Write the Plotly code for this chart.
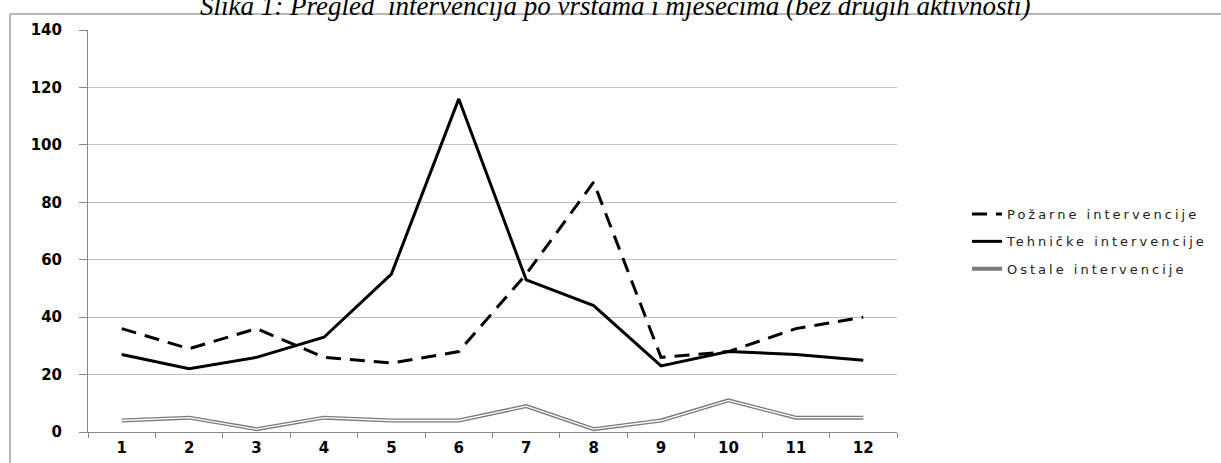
import plotly.graph_objects as go

months = ["1", "2", "3", "4", "5", "6", "7", "8", "9", "10", "11", "12"]
pozarne = [36, 29, 36, 26, 24, 28, 55, 87, 26, 28, 36, 40]
tehnicke = [27, 22, 26, 33, 55, 116, 53, 44, 23, 28, 27, 25]
ostale = [4, 5, 1, 5, 4, 4, 9, 1, 4, 11, 5, 5]
y_ticks = [0, 20, 40, 60, 80, 100, 120, 140]
title_text = "Slika 1: Pregled  intervencija po vrstama i mjesecima (bez drugih aktivnosti)"

fig = go.Figure()
fig.add_trace(go.Scatter(x=months, y=pozarne, mode="lines", name="Požarne intervencije",
                         legendgroup="p",
                         line=dict(color="black", width=3, dash="15px,9px")))
fig.add_trace(go.Scatter(x=months, y=tehnicke, mode="lines", name="Tehničke intervencije",
                         legendgroup="t",
                         line=dict(color="black", width=3)))
fig.add_trace(go.Scatter(x=months, y=ostale, mode="lines", name="Ostale intervencije",
                         legendgroup="o",
                         line=dict(color="#7a7a7a", width=4)))
fig.add_trace(go.Scatter(x=months, y=ostale, mode="lines", showlegend=False, legendgroup="o",
                         line=dict(color="white", width=1.3), hoverinfo="skip"))

PL, PR, PT, PB = 88, 897, 30, 432
pw, ph = PR - PL, PB - PT

def px_x(v):
    return (v - PL) / pw

def px_y(v):
    return (PB - v) / ph

border = dict(color="#a0a0a0", width=1.5)
fig.update_layout(
    width=1221, height=463,
    margin=dict(l=PL, r=1221 - PR, t=PT, b=463 - PB, autoexpand=False),
    paper_bgcolor="white", plot_bgcolor="white",
    showlegend=True,
    legend=dict(x=px_x(967), y=px_y(241.5), xanchor="left", yanchor="middle",
                font=dict(family="DejaVu Sans", size=13, color="#222"),
                bgcolor="rgba(0,0,0,0)", tracegroupgap=7.5, itemwidth=30,
                entrywidth=250, entrywidthmode="pixels"),
    xaxis=dict(type="category", tickson="boundaries", ticks="outside", ticklen=5,
               tickcolor="#888", showline=True, linecolor="#888", linewidth=1,
               showgrid=False, ticklabelstandoff=2, automargin=False,
               tickfont=dict(family="DejaVu Sans", size=15, color="black", weight="bold"),
               range=[-0.5, 11.5], fixedrange=True),
    yaxis=dict(range=[0, 140], tickvals=y_ticks, ticks="outside", ticklen=8, tickcolor="#888",
               showline=True, linecolor="#888", linewidth=1, showgrid=True, gridcolor="#c0c0c0",
               gridwidth=1.3, zeroline=False, ticklabelstandoff=14, automargin=False,
               tickfont=dict(family="DejaVu Sans", size=15, color="black", weight="bold")),
    shapes=[
        dict(type="line", xref="paper", yref="paper", x0=px_x(10), x1=px_x(1221),
             y0=px_y(14), y1=px_y(14), line=border, layer="above"),
        dict(type="line", xref="paper", yref="paper", x0=px_x(10), x1=px_x(10),
             y0=px_y(14), y1=px_y(463), line=border, layer="above"),
    ],
    annotations=[dict(text=title_text, xref="paper", yref="paper",
                      x=px_x(615), y=px_y(23), xanchor="center", yanchor="bottom",
                      showarrow=False,
                      font=dict(family="Liberation Serif", size=27, color="black", style="italic"))],
)

post = """
document.body.style.margin = '0';
var gd = document.getElementById('{plot_id}');
gd.querySelectorAll('.legend [clip-path]').forEach(function(e){ e.removeAttribute('clip-path'); });
gd.querySelectorAll('.legendtext').forEach(function(t){ t.style.letterSpacing = '3px'; });
"""

fig.write_html("out.html", post_script=post, config={"displayModeBar": False})
